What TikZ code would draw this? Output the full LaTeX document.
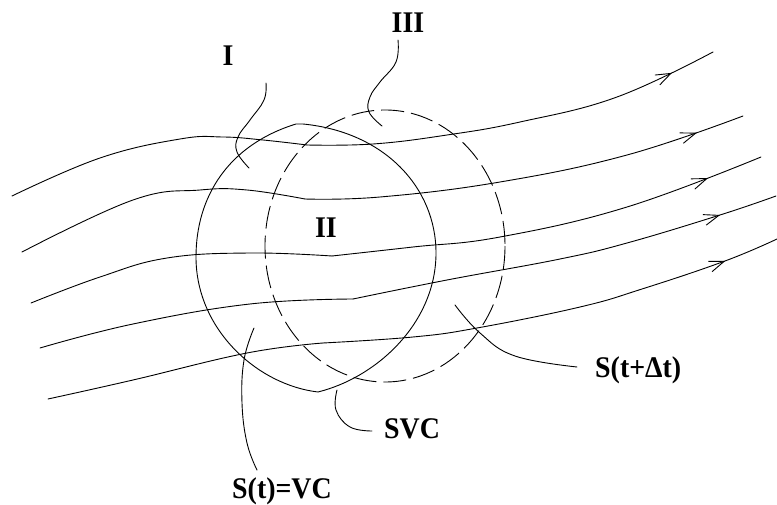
\documentclass[tikz,border=0pt]{standalone}
\usepackage{fontspec}
\setmainfont{Liberation Serif}
\usetikzlibrary{arrows.meta,decorations.markings}
\newcommand{\lbltext}[1]{\scalebox{0.93}[1]{#1}}
\tikzset{
  ln/.style={line width=0.9pt, line join=round, line cap=round},
  lbl/.style={font=\fontsize{30}{32}\selectfont\bfseries, inner sep=0pt, anchor=base},
  dsh/.style={line width=0.9pt, dash pattern=on 23pt off 7pt},
  flow/.style={ln, postaction={decorate}, decoration={markings,
     mark=at position #1 with {\arrow{Straight Barb[length=15pt,width=11pt,line width=0.9pt]}}}},
}
\begin{document}
\begin{tikzpicture}[x=1pt,y=-1pt]
\useasboundingbox (0,0) rectangle (777,505);

% streamlines
\draw[ln] plot[smooth,tension=0.7] coordinates {(12,196) (100,158) (180,139) (223,137) (263,140) (307,145)};
\draw[flow=-46pt] plot[smooth,tension=0.7] coordinates {(307,145) (373,144) (447,135) (520,122) (617,97) (713,52)};
\draw[ln] plot[smooth,tension=0.7] coordinates {(22,252) (133,200) (200,190) (247,190) (305,199)};
\draw[flow=-49pt] plot[smooth,tension=0.7] coordinates {(305,199) (380,197) (500,182) (627,155) (743,116)};
\draw[ln] plot[smooth,tension=0.7] coordinates {(31,303) (100,277) (167,258) (250,253) (332,256)};
\draw[flow=-57pt] plot[smooth,tension=0.7] coordinates {(332,256) (413,247) (500,237) (627,207) (761,157)};
\draw[ln] plot[smooth,tension=0.7] coordinates {(40,348) (133,324) (250,304) (353,299)};
\draw[flow=-59pt] plot[smooth,tension=0.7] coordinates {(353,299) (447,280) (560,259) (627,243) (720,215) (776,196)};
\draw[ln] plot[smooth,tension=0.7] coordinates {(48,399) (133,380) (247,353) (323,343)};
\draw[flow=-56pt] plot[smooth,tension=0.7] coordinates {(323,343) (413,337) (477,328) (580,307) (642,289) (725,261) (777,239)};

% solid control volume S(t)
\draw[ln] (296,124) .. controls (228,145) and (196,197) .. (196,257)
   .. controls (196,330) and (258,385) .. (318,392)
   .. controls (378,377) and (436,322) .. (436,253)
   .. controls (436,188) and (385,132) .. (303,124) -- cycle;

% dashed S(t+dt)
\draw[dsh] (385,246) ellipse [x radius=120, y radius=136];

% labels
\node[lbl] (I) at (228,66) {\lbltext{I}};
\node[lbl] (III) at (408,33) {\lbltext{III}};
\node[lbl] (II) at (326,238) {\lbltext{II}};
\node[lbl, anchor=base west] (SVC) at (384,438) {\lbltext{SVC}};
\node[lbl, anchor=base west] (VC) at (232,498) {\lbltext{S(t)=VC}};
\node[lbl, anchor=base west] (Stdt) at (595,377) {\lbltext{S(t+Δt)}};

% leaders
\draw[ln] plot[smooth,tension=0.7] coordinates {(266,83) (264,100) (250,120) (238,137) (237,152) (249,168)};
\draw[ln] plot[smooth,tension=0.7] coordinates {(398,40) (396,62) (380,82) (370,97) (369,112) (382,126)};
\draw[ln] plot[smooth,tension=0.7] coordinates {(254,328) (244,360) (242,403) (247,443) (257,470)};
\draw[ln] plot[smooth,tension=0.7] coordinates {(337,390) (336,410) (350,427) (372,431)};
\draw[ln] plot[smooth,tension=0.7] coordinates {(455,305) (480,333) (515,356) (577,367)};
\end{tikzpicture}
\end{document}
